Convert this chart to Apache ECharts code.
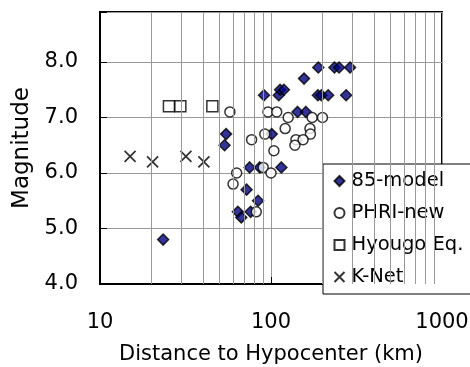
<!DOCTYPE html>
<html>
<head>
<meta charset="utf-8">
<script src="https://cdn.jsdelivr.net/npm/echarts@6/dist/echarts.min.js"></script>
<style>
  html, body { margin: 0; padding: 0; background: #fff; }
  #chart { width: 470px; height: 367px; }
</style>
</head>
<body>
<div id="chart"></div>
<script>
// 各データ系列 [震源距離(km), マグニチュード]
var model85 = [
  [23.4, 4.8], [54.6, 6.7], [53.5, 6.5], [64, 5.3], [67, 5.2], [72, 5.7],
  [84, 5.5], [76, 5.3], [75, 6.1], [86, 6.1], [115, 6.1], [101, 6.7],
  [91, 7.4], [111, 7.4], [113, 7.5], [119, 7.5], [143, 7.1], [160, 7.1],
  [156, 7.7], [189, 7.9], [235, 7.9], [250, 7.9], [290, 7.9],
  [188, 7.4], [197, 7.4], [216, 7.4], [275, 7.4]
];
var phriNew = [
  [57.5, 7.1], [96, 7.1], [108, 7.1], [126, 7.0], [174, 7.0], [200, 7.0],
  [121, 6.8], [169, 6.8], [92, 6.7], [170, 6.7], [77, 6.6], [140, 6.6],
  [154, 6.6], [138, 6.5], [104, 6.4], [90, 6.1], [63, 6.0], [100, 6.0],
  [60, 5.8], [82, 5.3]
];
var hyougo = [[25.3, 7.2], [29.5, 7.2], [45.4, 7.2]];
var kNet = [[15.0, 6.3], [20.3, 6.2], [31.8, 6.3], [40.5, 6.2]];
var minorGrid = [20, 30, 40, 50, 60, 70, 80, 90, 200, 300, 400, 500, 600, 700, 800, 900];
var yTicks = [4, 5, 6, 7, 8];

var fontName = 'DejaVu Sans';
var chartDom = echarts.init(document.getElementById('chart'));

var option = {
  animation: false,
  grid: {
    left: 100, right: 28, top: 12, bottom: 83,
    outerBoundsMode: 'none',
    show: true, borderColor: '#000', borderWidth: 2
  },
  legend: {
    orient: 'vertical',
    left: 323, top: 164,
    padding: [7, 40, 7, 9],
    itemGap: 12,
    itemWidth: 10, itemHeight: 10,
    backgroundColor: '#fff',
    borderColor: '#000', borderWidth: 1,
    textStyle: { fontFamily: fontName, fontSize: 19.5, color: '#000', padding: [0, 0, 0, 2] },
    data: ['85-model', 'PHRI-new', 'Hyougo Eq.', 'K-Net']
  },
  xAxis: {
    type: 'log', logBase: 10, min: 10, max: 1000,
    name: 'Distance to Hypocenter (km)',
    nameLocation: 'middle', nameGap: 60,
    nameTextStyle: { fontFamily: fontName, fontSize: 21, color: '#000' },
    axisLine: { lineStyle: { color: '#000', width: 2 } },
    axisTick: { inside: true, length: 7, lineStyle: { color: '#000' } },
    axisLabel: {
      fontFamily: fontName, fontSize: 21, color: '#000', margin: 28,
      formatter: function (v) { return String(v); }
    },
    splitLine: { show: true, lineStyle: { color: '#999', width: 1 } }
  },
  yAxis: {
    type: 'value', min: 4, max: 8.9, interval: 1,
    name: 'Magnitude',
    nameLocation: 'middle', nameGap: 66,
    nameTextStyle: { fontFamily: fontName, fontSize: 23, color: '#000' },
    axisLine: { lineStyle: { color: '#000', width: 2 } },
    axisTick: { inside: true, length: 7, lineStyle: { color: '#000' } },
    axisLabel: {
      fontFamily: fontName, fontSize: 21, color: '#000', margin: 22,
      formatter: function (v) { return yTicks.indexOf(v) >= 0 ? v.toFixed(1) : ''; }
    },
    splitLine: { show: true, lineStyle: { color: '#999', width: 1 } }
  },
  series: [
    {
      name: '85-model', type: 'scatter', data: model85,
      symbol: 'diamond', symbolSize: 11,
      itemStyle: { color: '#000080', borderColor: '#000', borderWidth: 1.5 },
      z: 3,
      markLine: {
        silent: true, symbol: 'none', animation: false,
        label: { show: false },
        lineStyle: { color: '#999', width: 1, type: 'solid' },
        data: minorGrid.map(function (v) { return { xAxis: v }; })
      }
    },
    {
      name: 'PHRI-new', type: 'scatter', data: phriNew,
      symbol: 'circle', symbolSize: 10,
      itemStyle: { color: '#fff', borderColor: '#000', borderWidth: 1.5 },
      z: 4
    },
    {
      name: 'Hyougo Eq.', type: 'scatter', data: hyougo,
      symbol: 'rect', symbolSize: 11,
      itemStyle: { color: '#fff', borderColor: '#000', borderWidth: 1.5 },
      z: 4
    },
    {
      name: 'K-Net', type: 'scatter', data: kNet,
      symbol: 'path://M0,0L10,10M10,0L0,10', symbolSize: 11,
      itemStyle: { color: 'none', borderColor: '#000', borderWidth: 1.8 },
      z: 4
    }
  ]
};

chartDom.setOption(option);
</script>
</body>
</html>
